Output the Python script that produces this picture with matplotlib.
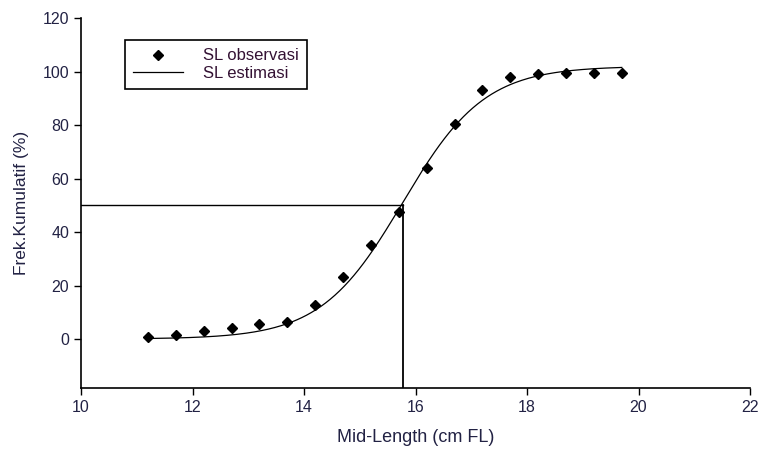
import numpy as np
import matplotlib
matplotlib.use("Agg")
import matplotlib.pyplot as plt
from matplotlib.lines import Line2D

plt.rcParams['font.family'] = ['Liberation Sans', 'DejaVu Sans']

# observed cumulative frequency
mid_length = [11.2, 11.7, 12.2, 12.7, 13.2, 13.7, 14.2, 14.7, 15.2,
              15.7, 16.2, 16.7, 17.2, 17.7, 18.2, 18.7, 19.2, 19.7]
frek_obs = [0.8, 1.4, 3.1, 4.1, 5.7, 6.5, 12.6, 23.3, 35.0,
            47.3, 63.8, 80.5, 93.2, 98.0, 99.1, 99.6, 99.6, 99.6]

# logistic estimate parameters
asym = 102.0
k_slope = 1.36
sl50 = 15.77

x_fit = np.linspace(mid_length[0], mid_length[-1], 300)
y_fit = asym / (1 + np.exp(-k_slope * (x_fit - sl50)))

fig = plt.figure(figsize=(7.63, 4.51), dpi=100)
ax = fig.add_axes([0.1062, 0.1397, 0.8768, 0.8204])

ax.plot(x_fit, y_fit, color='black', lw=0.9)
ax.plot(mid_length, frek_obs, linestyle='none', marker='D', color='black',
        markersize=5.5)

# SL50 guide lines
ax.plot([10, sl50], [50, 50], color='black', lw=1)
ax.plot([sl50, sl50], [-18.3, 50], color='black', lw=1.3)

ax.set_xlim(10, 22)
ax.set_ylim(-18.3, 120)
ax.set_xticks(range(10, 23, 2))
ax.set_yticks(range(0, 121, 20))
ax.spines['top'].set_visible(False)
ax.spines['right'].set_visible(False)
ax.spines['left'].set_linewidth(1.2)
ax.spines['bottom'].set_linewidth(1.2)
ax.tick_params(direction='out', length=5, width=1, labelsize=11.5,
               colors='black', labelcolor='#222244')

ax.set_xlabel('Mid-Length (cm FL)', fontsize=13, color='#222244', labelpad=10)
ax.set_ylabel('Frek.Kumulatif (%)', fontsize=12.5, color='#222244', labelpad=10)

handles = [Line2D([], [], linestyle='none', marker='D', color='black', markersize=5.5),
           Line2D([], [], color='black', lw=0.9)]
leg = fig.legend(handles, ['SL observasi', 'SL estimasi'],
                 loc='upper left', bbox_to_anchor=(125 / 763, 1 - 40 / 451),
                 fancybox=False, edgecolor='black', framealpha=1,
                 fontsize=12, handlelength=3.0, borderpad=0.5,
                 labelspacing=0.15, handletextpad=1.2, borderaxespad=0)
leg.get_frame().set_linewidth(1.2)
for t in leg.get_texts():
    t.set_color('#331133')

fig.savefig('out.png', dpi=100)
